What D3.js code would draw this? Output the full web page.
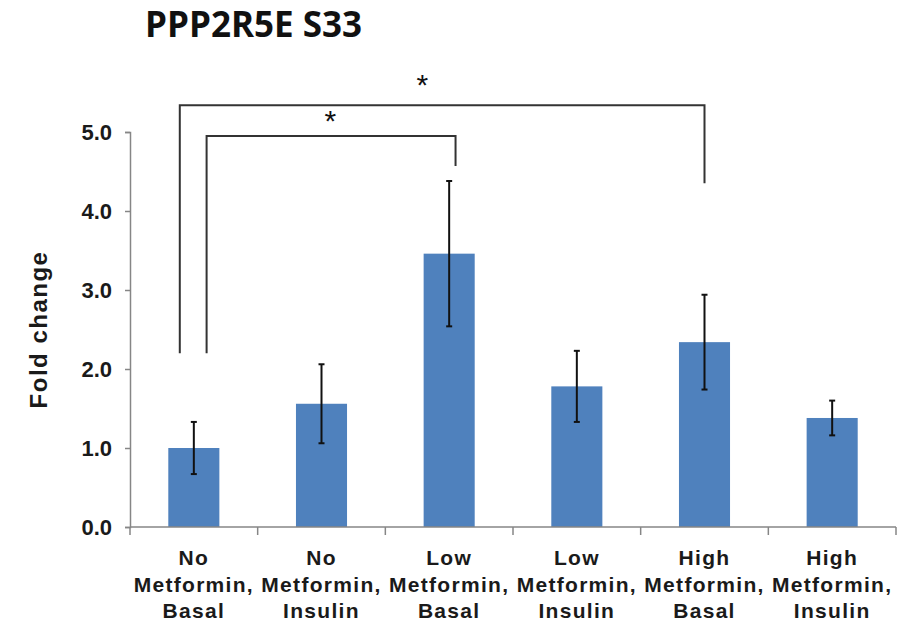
<!DOCTYPE html>
<html lang="en">
<head>
    <meta charset="UTF-8">
    <title>PPP2R5E S33</title>
    <script src="https://d3js.org/d3.v7.min.js"></script>
    <style>
        body { margin: 0; background: #fff; font-family: "Liberation Sans", Arial, sans-serif; }
        .tick text { font-weight: bold; fill: #1a1a1a; }
    </style>
</head>
<body>
    <div id="chart"></div>
    <script>
        // chart values
        const categories = [
            ["No", "Metformin,", "Basal"],
            ["No", "Metformin,", "Insulin"],
            ["Low", "Metformin,", "Basal"],
            ["Low", "Metformin,", "Insulin"],
            ["High", "Metformin,", "Basal"],
            ["High", "Metformin,", "Insulin"]
        ];
        const foldChange = [1.00, 1.56, 3.46, 1.78, 2.34, 1.38];
        const errors = [0.33, 0.50, 0.92, 0.45, 0.60, 0.22];
        const yTicks = [0, 1, 2, 3, 4, 5];

        // significance brackets: category index + position inside band, heights in fold change
        const brackets = [
            { from: 0, fromPos: 0.39, to: 4, toPos: 0.5, top: 5.34, leftEnd: 2.2, rightEnd: 4.35, starCat: 2, starPos: 0.29, star: 5.66 },
            { from: 0, fromPos: 0.6, to: 2, toPos: 0.55, top: 4.95, leftEnd: 2.2, rightEnd: 4.57, starCat: 1, starPos: 0.57, star: 5.2 }
        ];

        const W = 897, H = 629;
        const svg = d3.select("#chart").append("svg")
            .attr("width", W).attr("height", H);

        const x = d3.scaleBand()
            .domain(d3.range(categories.length))
            .range([130, 896])
            .padding(0);

        const y = d3.scaleLinear()
            .domain([0, 5])
            .range([527, 132]);

        const barW = x.bandwidth() * 0.4;

        // title
        svg.append("text")
            .attr("x", 145).attr("y", 37)
            .style("font-family", "'Open Sans', sans-serif")
            .style("font-weight", "bold")
            .style("font-size", "35px")
            .attr("fill", "#111")
            .text("PPP2R5E S33");

        // y axis
        const yAxis = svg.append("g")
            .attr("transform", "translate(130,0)")
            .call(d3.axisLeft(y).tickValues(yTicks).tickFormat(d3.format(".1f")).tickSize(5).tickPadding(13));
        yAxis.select(".domain").attr("stroke", "#868686").attr("stroke-width", 1.5);
        yAxis.selectAll(".tick line").attr("stroke", "#868686").attr("stroke-width", 1.5);
        yAxis.selectAll(".tick text").style("font-size", "22px");

        // bars
        svg.selectAll(".bar")
            .data(foldChange)
            .enter().append("rect")
            .attr("class", "bar")
            .attr("x", (d, i) => x(i) + (x.bandwidth() - barW) / 2)
            .attr("y", d => y(d))
            .attr("width", barW)
            .attr("height", d => y(0) - y(d))
            .attr("fill", "#4F81BD");

        // error bars
        const eb = svg.selectAll(".err")
            .data(foldChange)
            .enter().append("g")
            .attr("class", "err")
            .attr("stroke", "#111")
            .attr("stroke-width", 2);
        eb.append("line")
            .attr("x1", (d, i) => x(i) + x.bandwidth() / 2)
            .attr("x2", (d, i) => x(i) + x.bandwidth() / 2)
            .attr("y1", (d, i) => y(d + errors[i]))
            .attr("y2", (d, i) => y(d - errors[i]));
        eb.append("line")
            .attr("x1", (d, i) => x(i) + x.bandwidth() / 2 - 3)
            .attr("x2", (d, i) => x(i) + x.bandwidth() / 2 + 3)
            .attr("y1", (d, i) => y(d + errors[i]))
            .attr("y2", (d, i) => y(d + errors[i]));
        eb.append("line")
            .attr("x1", (d, i) => x(i) + x.bandwidth() / 2 - 3)
            .attr("x2", (d, i) => x(i) + x.bandwidth() / 2 + 3)
            .attr("y1", (d, i) => y(d - errors[i]))
            .attr("y2", (d, i) => y(d - errors[i]));

        // x axis
        const xAxis = svg.append("g")
            .attr("transform", `translate(0,${y(0)})`);
        xAxis.append("line")
            .attr("x1", x.range()[0]).attr("x2", x.range()[1])
            .attr("stroke", "#868686").attr("stroke-width", 1.5);
        xAxis.selectAll(".xt")
            .data(d3.range(categories.length + 1))
            .enter().append("line")
            .attr("x1", i => x.range()[0] + i * x.step())
            .attr("x2", i => x.range()[0] + i * x.step())
            .attr("y1", 0).attr("y2", 8)
            .attr("stroke", "#868686").attr("stroke-width", 1.5);
        const xl = xAxis.selectAll(".xl")
            .data(categories)
            .enter().append("text")
            .attr("class", "xl")
            .attr("text-anchor", "middle")
            .style("font-weight", "bold")
            .style("font-size", "21px")
            .style("letter-spacing", "1.3px")
            .attr("fill", "#1a1a1a");
        xl.selectAll("tspan")
            .data((d, i) => d.map(t => ({ t, i })))
            .enter().append("tspan")
            .attr("x", d => x(d.i) + x.bandwidth() / 2)
            .attr("y", (d, j) => 38 + j * 26.5)
            .text(d => d.t);

        // y label
        svg.append("text")
            .attr("transform", `translate(47,${y(2.5)}) rotate(-90)`)
            .attr("text-anchor", "middle")
            .style("font-weight", "bold")
            .style("font-size", "24px")
            .style("letter-spacing", "1.5px")
            .attr("fill", "#1a1a1a")
            .text("Fold change");

        // significance brackets
        const bx = (c, p) => x(c) + p * x.bandwidth();
        svg.selectAll(".bracket")
            .data(brackets)
            .enter().append("path")
            .attr("fill", "none")
            .attr("stroke", "#333")
            .attr("stroke-width", 2)
            .attr("d", d => `M${bx(d.from, d.fromPos)},${y(d.leftEnd)}V${y(d.top)}H${bx(d.to, d.toPos)}V${y(d.rightEnd)}`);
        svg.selectAll(".star")
            .data(brackets)
            .enter().append("text")
            .attr("x", d => bx(d.starCat, d.starPos))
            .attr("y", d => y(d.star) + 15)
            .attr("text-anchor", "middle")
            .style("font-size", "30px")
            .attr("fill", "#111")
            .text("*");
    </script>
</body>
</html>
